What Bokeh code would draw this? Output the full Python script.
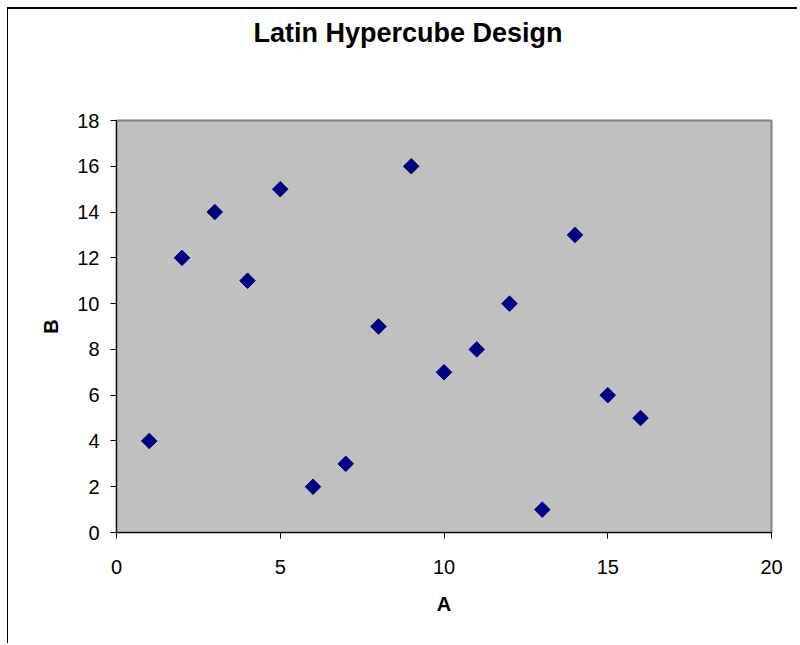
import math
from bokeh.plotting import figure
from bokeh.models import Range1d, FixedTicker, Title
from bokeh.embed import file_html
from bokeh.resources import INLINE

# Data
a_values = [1, 2, 3, 4, 5, 6, 7, 8, 9, 10, 11, 12, 13, 14, 15, 16]
b_values = [4, 12, 14, 11, 15, 2, 3, 9, 16, 7, 8, 10, 1, 13, 6, 5]
x_ticks = [0, 5, 10, 15, 20]
y_ticks = [0, 2, 4, 6, 8, 10, 12, 14, 16, 18]
title_text = "Latin Hypercube Design"
x_label = "A"
y_label = "B"

FONT = "Liberation Sans"

p = figure(width=790, height=636, output_backend="svg", toolbar_location=None,
           x_range=Range1d(0, 20), y_range=Range1d(0, 18),
           min_border_left=108, min_border_right=27, min_border_top=111,
           min_border_bottom=113)
p.styles = {"margin-left": "7px", "margin-top": "7px",
            "border-left": "1px solid black", "border-top": "2px solid black"}

# spacer nearest the frame, then the visible title above it
spacer = Title(text=" ", text_font_size="1px", standoff=70)
p.add_layout(spacer, "above")
t = Title(text=title_text, align="left", text_font=FONT, text_font_size="27px",
          text_font_style="bold", text_color="black", offset=137, standoff=0)
p.add_layout(t, "above")

p.background_fill_color = "#C0C0C0"
p.border_fill_color = "white"
p.outline_line_color = "#808080"
p.outline_line_width = 2
p.xgrid.visible = False
p.ygrid.visible = False

p.xaxis.ticker = FixedTicker(ticks=x_ticks)
p.yaxis.ticker = FixedTicker(ticks=y_ticks)
for ax in (p.xaxis, p.yaxis):
    ax.axis_line_color = "black"
    ax.axis_line_width = 1
    ax.major_tick_line_color = "black"
    ax.major_tick_in = 0
    ax.major_tick_out = 6
    ax.minor_tick_line_color = None
    ax.major_label_text_font = FONT
    ax.major_label_text_font_size = "20px"
    ax.major_label_text_color = "black"
    ax.axis_label_text_font = FONT
    ax.axis_label_text_font_size = "20px"
    ax.axis_label_text_font_style = "bold"
    ax.axis_label_text_color = "black"

p.xaxis.axis_label = x_label
p.yaxis.axis_label = y_label
p.xaxis.major_label_standoff = 21
p.xaxis.axis_label_standoff = 16
p.yaxis.major_label_standoff = 11
p.yaxis.axis_label_standoff = 12

p.scatter(a_values, b_values, marker="square", size=11, angle=math.pi / 4,
          fill_color="#000080", line_color="#000080")

open("out.html", "w").write(file_html(p, INLINE))
